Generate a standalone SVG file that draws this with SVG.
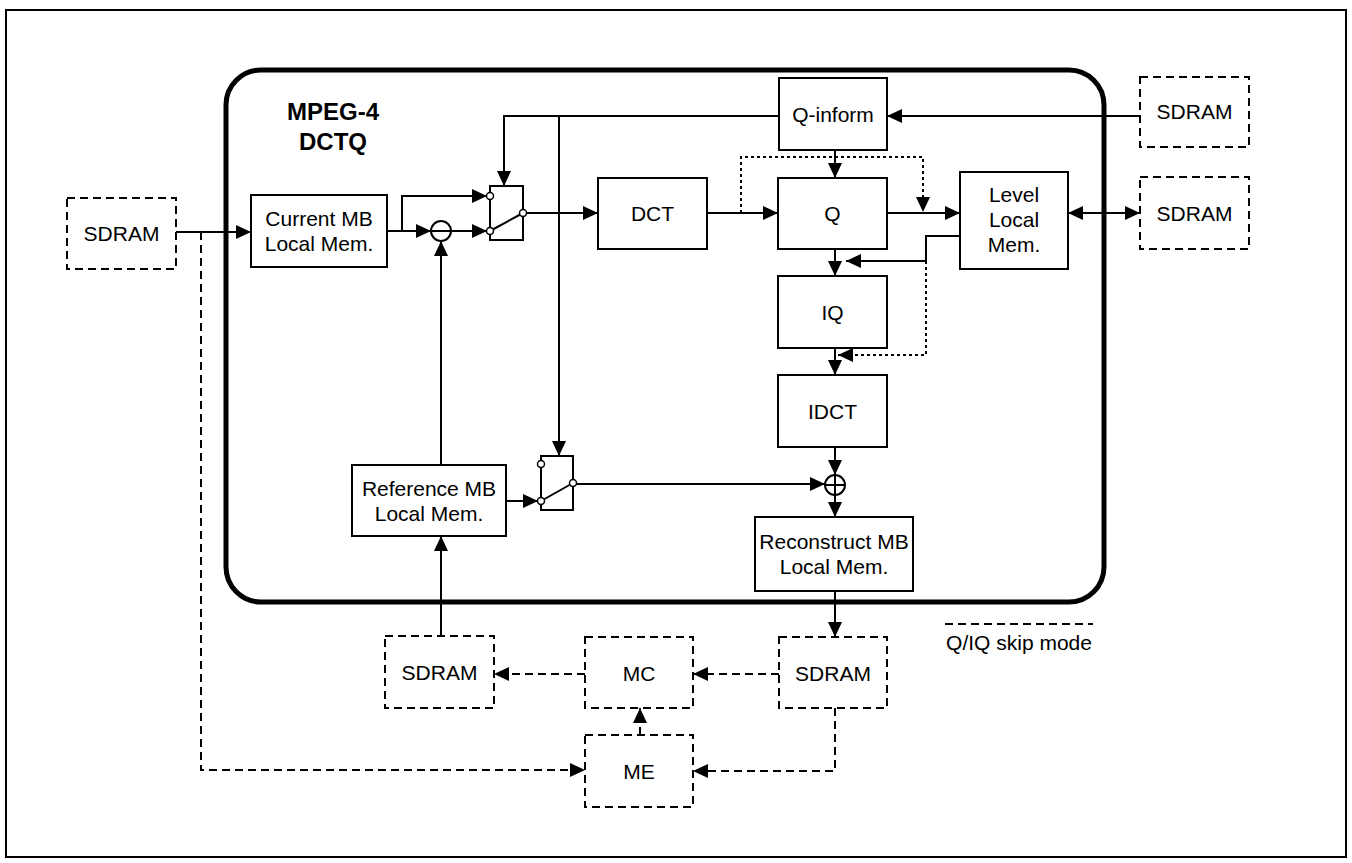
<svg xmlns="http://www.w3.org/2000/svg" width="1352" height="863" viewBox="0 0 1352 863">
<style>
.box{fill:#fff;stroke:#000;stroke-width:2}
.dbox{fill:#fff;stroke:#000;stroke-width:2;stroke-dasharray:8,5}
.t{font-family:"Liberation Sans",Arial,sans-serif;font-size:21px;fill:#000;text-anchor:middle}
.tb{font-family:"Liberation Sans",Arial,sans-serif;font-size:24px;font-weight:bold;fill:#000;text-anchor:middle}
.c{fill:none;stroke:#000;stroke-width:2}
.cd{fill:none;stroke:#000;stroke-width:2;stroke-dasharray:8,5}
.co{fill:none;stroke:#000;stroke-width:2;stroke-dasharray:3,3}
.pin{fill:#fff;stroke:#000;stroke-width:1.5}
</style>
<defs>
<marker id="ah" markerUnits="userSpaceOnUse" markerWidth="16" markerHeight="15" refX="15" refY="7" orient="auto-start-reverse">
<path d="M0,0 L15,7 L0,14 z" fill="#000"/>
</marker>
</defs>
<rect x="6" y="10" width="1340" height="847" fill="#fff" stroke="#000" stroke-width="2"/>
<rect id="dctq" x="226" y="70" width="878" height="532" rx="35" ry="35" fill="none" stroke="#000" stroke-width="5"/>
<g id="title">
<text class="tb" x="333" y="120">MPEG-4</text>
<text class="tb" x="333" y="150">DCTQ</text>
</g>
<g id="connectors">
<path class="c" d="M176,232 H251" marker-end="url(#ah)"/>
<path class="cd" d="M201,232 V770 H585" marker-end="url(#ah)"/>
<path class="c" d="M387,231 H431" marker-end="url(#ah)"/>
<path class="c" d="M402,231 V196 H487" marker-end="url(#ah)"/>
<path class="c" d="M451,231 H487" marker-end="url(#ah)"/>
<path class="c" d="M523,213 H598" marker-end="url(#ah)"/>
<path class="c" d="M707,213 H778" marker-end="url(#ah)"/>
<path class="c" d="M779,116 H504 V186" marker-end="url(#ah)"/>
<path class="c" d="M559,116 V456" marker-end="url(#ah)"/>
<path class="c" d="M1140,116 H887" marker-end="url(#ah)"/>
<path class="c" d="M835,150 V178" marker-end="url(#ah)"/>
<path class="c" d="M887,213 H960" marker-end="url(#ah)"/>
<path class="c" d="M1068,213 H1140" marker-start="url(#ah)" marker-end="url(#ah)"/>
<path class="c" d="M960,236 H926 V261 H846" marker-end="url(#ah)"/>
<path class="c" d="M835,249 V276" marker-end="url(#ah)"/>
<path class="c" d="M835,348 V375" marker-end="url(#ah)"/>
<path class="c" d="M835,447 V475" marker-end="url(#ah)"/>
<path class="c" d="M835,495 V517" marker-end="url(#ah)"/>
<path class="c" d="M506,501 H538" marker-end="url(#ah)"/>
<path class="c" d="M573,484 H825" marker-end="url(#ah)"/>
<path class="c" d="M441,465 V241" marker-end="url(#ah)"/>
<path class="c" d="M441,636 V536" marker-end="url(#ah)"/>
<path class="c" d="M835,591 V637" marker-end="url(#ah)"/>
<path class="cd" d="M779,674 H693" marker-end="url(#ah)"/>
<path class="cd" d="M585,674 H494" marker-end="url(#ah)"/>
<path class="cd" d="M640,735 V708" marker-end="url(#ah)"/>
<path class="cd" d="M835,708 V771 H693" marker-end="url(#ah)"/>
<path class="co" d="M741,213 V157 H923 V212" marker-end="url(#ah)"/>
<path class="co" d="M926,261 V355 H838" marker-end="url(#ah)"/>
</g>
<g id="sdram-left"><rect class="dbox" x="67" y="198" width="109" height="71"/><text class="t" x="121.5" y="241">SDRAM</text></g>
<g id="current-mb"><rect class="box" x="251" y="195" width="136" height="72"/><text class="t" x="319" y="226">Current MB</text><text class="t" x="319" y="251">Local Mem.</text></g>
<g id="subtractor"><circle cx="441" cy="231" r="10" fill="#fff" stroke="#000" stroke-width="2"/><line x1="431" y1="231" x2="451" y2="231" stroke="#000" stroke-width="2"/></g>
<g id="switch1">
<rect x="490" y="186" width="33" height="54" fill="none" stroke="#000" stroke-width="2"/>
<line x1="490" y1="231" x2="523" y2="213" stroke="#000" stroke-width="2"/>
<circle class="pin" cx="490" cy="196" r="3.5"/><circle class="pin" cx="490" cy="231" r="3.5"/><circle class="pin" cx="523" cy="213" r="3.5"/>
</g>
<g id="dct"><rect class="box" x="598" y="178" width="109" height="71"/><text class="t" x="652.5" y="221">DCT</text></g>
<g id="q-inform"><rect class="box" x="779" y="78" width="108" height="72"/><text class="t" x="833" y="122">Q-inform</text></g>
<g id="q"><rect class="box" x="778" y="178" width="109" height="71"/><text class="t" x="832.5" y="221">Q</text></g>
<g id="level"><rect class="box" x="960" y="172" width="108" height="97"/><text class="t" x="1014" y="202">Level</text><text class="t" x="1014" y="227">Local</text><text class="t" x="1014" y="252">Mem.</text></g>
<g id="sdram-top"><rect class="dbox" x="1140" y="77" width="109" height="70"/><text class="t" x="1194.5" y="119">SDRAM</text></g>
<g id="sdram-mid"><rect class="dbox" x="1140" y="177" width="109" height="72"/><text class="t" x="1194.5" y="221">SDRAM</text></g>
<g id="iq"><rect class="box" x="778" y="276" width="109" height="72"/><text class="t" x="832.5" y="320">IQ</text></g>
<g id="idct"><rect class="box" x="778" y="375" width="109" height="72"/><text class="t" x="832.5" y="419">IDCT</text></g>
<g id="adder"><circle cx="835" cy="485" r="10" fill="#fff" stroke="#000" stroke-width="2"/><line x1="825" y1="485" x2="845" y2="485" stroke="#000" stroke-width="2"/><line x1="835" y1="475" x2="835" y2="495" stroke="#000" stroke-width="2"/></g>
<g id="reference-mb"><rect class="box" x="352" y="465" width="154" height="71"/><text class="t" x="429" y="496">Reference MB</text><text class="t" x="429" y="521">Local Mem.</text></g>
<g id="switch2">
<rect x="541" y="456" width="32" height="54" fill="none" stroke="#000" stroke-width="2"/>
<line x1="541" y1="501" x2="573" y2="483" stroke="#000" stroke-width="2"/>
<circle class="pin" cx="541" cy="464" r="3.5"/><circle class="pin" cx="541" cy="501" r="3.5"/><circle class="pin" cx="573" cy="483" r="3.5"/>
</g>
<g id="reconstruct-mb"><rect class="box" x="755" y="517" width="158" height="74"/><text class="t" x="834" y="549">Reconstruct MB</text><text class="t" x="834" y="574">Local Mem.</text></g>
<g id="sdram-bl"><rect class="dbox" x="385" y="636" width="109" height="72"/><text class="t" x="439.5" y="680">SDRAM</text></g>
<g id="mc"><rect class="dbox" x="585" y="637" width="108" height="71"/><text class="t" x="639" y="681">MC</text></g>
<g id="sdram-br"><rect class="dbox" x="779" y="637" width="108" height="71"/><text class="t" x="833" y="681">SDRAM</text></g>
<g id="me"><rect class="dbox" x="585" y="735" width="108" height="72"/><text class="t" x="639" y="779">ME</text></g>
<g id="legend"><line x1="945" y1="624" x2="1093" y2="624" class="cd"/><text class="t" x="1019" y="650">Q/IQ skip mode</text></g>
</svg>
